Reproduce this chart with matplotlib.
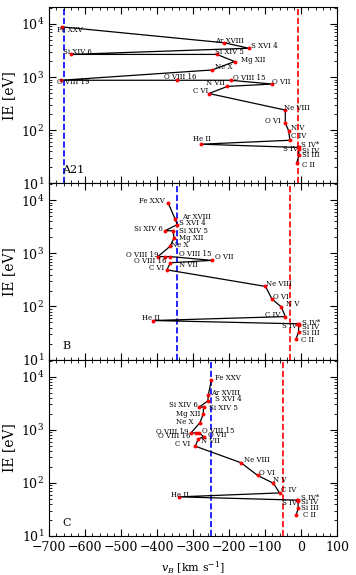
import matplotlib
matplotlib.use('Agg')
import matplotlib.pyplot as plt
from matplotlib.ticker import MultipleLocator, LogLocator, NullFormatter

plt.rcParams['font.family'] = ['DejaVu Serif']
plt.rcParams['mathtext.fontset'] = 'dejavuserif'

# ions in the order the line runs (descending ionisation energy)
ions = ['Fe XXV', 'Ar XVIII', 'S XVI 4', 'Si XIV 6', 'Si XIV 5', 'Mg XII', 'Ne X',
        'O VIII 19', 'O VIII 16', 'O VIII 15', 'O VII', 'N VII', 'C VI', 'Ne VIII',
        'O VI', 'N V', 'C IV', 'He II', 'S IV', 'S IV*', 'Si IV', 'Si III', 'C II']
ie = [8828, 4426, 3494, 2673, 2673, 1963, 1362, 871, 871, 871, 739, 667, 490, 239,
      138, 98, 64.5, 54.4, 47.2, 47.3, 45.1, 33.5, 24.4]

# velocities read for each panel
v_a21 = [-665, -213, -145, -640, -234, -185, -247, -666, -344, -196, -80, -205, -256,
         -44, -44, -35, -31, -278, -8, -6, -7, -6, -12]
v_b = [-369, -350, -344, -378, -356, -353, -364, -398, -378, -363, -248, -363, -373,
       -99, -81, -55, -44, -412, -11, -7, -7, -7, -14]
v_c = [-249, -258, -259, -283, -271, -272, -281, -306, -293, -283, -271, -286, -294,
       -167, -121, -77, -60, -339, -11, -9, -9, -8, -14]

panel_names = ['A21', 'B', 'C']
blue_lines = [-660, -345, -250]
red_lines = [-8, -30, -50]

# label placement (dx, dy in pixels, horizontal alignment)
offs_a = [(-5, -3, 'left'), (-9, 2, 'left'), (2, 2, 'left'), (-8, 2, 'left'),
          (-2, 2, 'left'), (6, 2, 'left'), (3, 3, 'left'), (-4, -2, 'left'),
          (-13, 3, 'left'), (2, 2, 'left'), (0, 2, 'left'), (-2, 3, 'right'),
          (-1, 3, 'right'), (-1, 2, 'left'), (-5, 2, 'right'), (2, 3, 'left'),
          (1, 4, 'left'), (-8, 5, 'left'), (0, -2, 'right'), (2, 2, 'left'),
          (3, -2, 'left'), (3, 0, 'left'), (5, -2, 'left')]
offs_b = [(-4, 2, 'right'), (7, 2, 'left'), (2, 2, 'left'), (-2, 2, 'right'),
          (6, 0, 'left'), (5, 0, 'left'), (1, 1, 'left'), (1, 2, 'right'),
          (1, -4, 'right'), (9, 3, 'left'), (3, 3, 'left'), (9, -2, 'left'),
          (-3, 2, 'right'), (1, 2, 'left'), (1, 2, 'left'), (5, 3, 'left'),
          (-5, 2, 'right'), (-2, 3, 'center'), (0, -2, 'right'), (3, 1, 'left'),
          (3, -2, 'left'), (3, -1, 'left'), (5, -1, 'left')]
offs_c = [(4, 2, 'left'), (3, 2, 'left'), (7, 2, 'left'), (-1, 2, 'right'),
          (5, -1, 'left'), (-3, 0, 'right'), (-6, 1, 'right'), (-2, 1, 'right'),
          (-5, -3, 'right'), (3, 2, 'left'), (4, 2, 'left'), (3, -2, 'left'),
          (-5, 2, 'right'), (3, 3, 'left'), (1, 2, 'left'), (0, 3, 'left'),
          (1, 3, 'left'), (1, 2, 'center'), (0, -3, 'right'), (3, 2, 'left'),
          (3, -1, 'left'), (3, 0, 'left'), (7, 0, 'left')]

fig, axes = plt.subplots(3, 1, figsize=(3.56, 5.75), dpi=100, sharex=True)
fig.subplots_adjust(left=0.138, right=0.947, top=0.988, bottom=0.068, hspace=0)

for ax, v, offs, name, vb, vr in zip(axes, [v_a21, v_b, v_c], [offs_a, offs_b, offs_c],
                                     panel_names, blue_lines, red_lines):
    ax.plot(v, ie, '-', color='k', lw=0.9, zorder=2)
    ax.plot(v, ie, 'o', color='red', ms=2.8, mew=0, zorder=3)
    ax.axvline(vb, color='blue', ls='--', lw=1.2, zorder=1)
    ax.axvline(vr, color='red', ls='--', lw=1.2, zorder=1)
    for lab, x, y, (dx, dy, ha) in zip(ions, v, ie, offs):
        ax.annotate(lab, (x, y), xytext=(dx, dy), textcoords='offset pixels',
                    ha=ha, va='center', fontsize=5)
    ax.text(0.045, 0.075, name, transform=ax.transAxes, fontsize=8, va='center')
    ax.set_yscale('log')
    ax.set_ylim(10, 2.1e4)
    ax.set_xlim(-700, 100)
    ax.xaxis.set_major_locator(MultipleLocator(100))
    ax.xaxis.set_minor_locator(MultipleLocator(20))
    ax.yaxis.set_major_locator(LogLocator(base=10, numticks=10))
    ax.yaxis.set_minor_locator(LogLocator(base=10, subs=range(2, 10), numticks=10))
    ax.yaxis.set_minor_formatter(NullFormatter())
    ax.tick_params(which='both', direction='in', top=True, right=True, labelsize=9)
    ax.tick_params(which='major', length=5, width=0.8)
    ax.tick_params(which='minor', length=2.5, width=0.6)
    ax.set_ylabel('IE [eV]', fontsize=10)
    ax.yaxis.set_label_coords(-0.115, 0.5)

axes[-1].set_xlabel(r'$v_B$ [km s$^{-1}$]', fontsize=8)
fig.savefig('out.png', dpi=100)
